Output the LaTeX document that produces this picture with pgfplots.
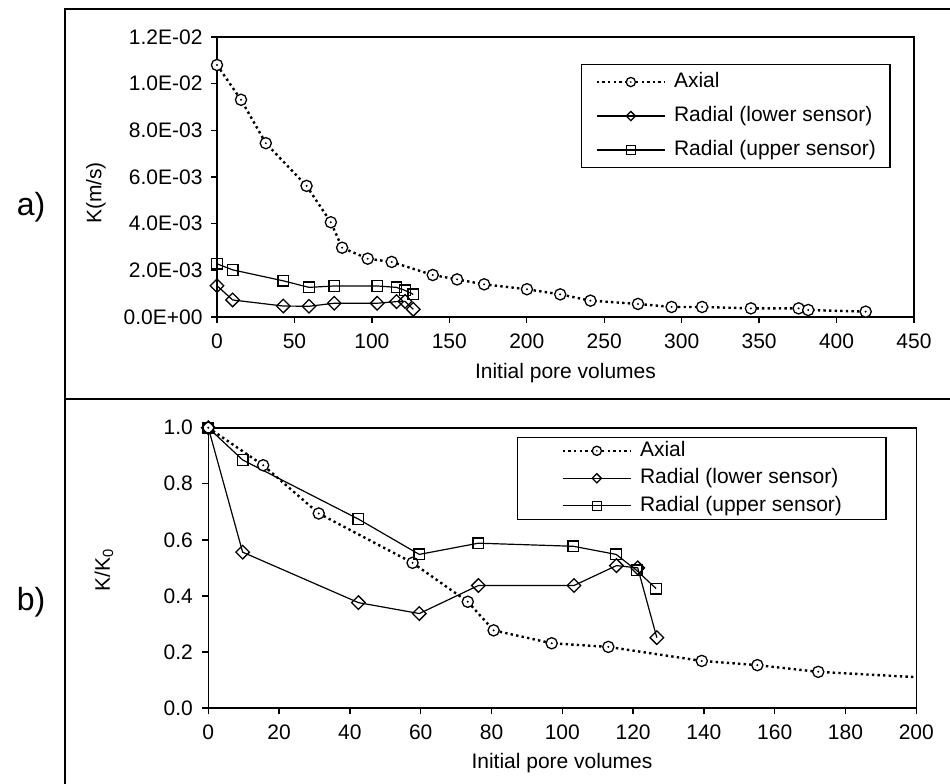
\documentclass[border=0pt]{standalone}
\usepackage{fontspec}
\setmainfont{Liberation Sans}
\usepackage{pgfplots}
\pgfplotsset{compat=1.18}

\newcommand\fs{\fontsize{21pt}{24pt}\selectfont}

% hollow circle with a centre dot
\pgfdeclareplotmark{odot}{%
  \pgfpathcircle{\pgfpointorigin}{\pgfplotmarksize}%
  \pgfsetfillcolor{white}\pgfusepathqfillstroke
  \pgfpathcircle{\pgfpointorigin}{0.2\pgfplotmarksize}%
  \pgfsetfillcolor{black}\pgfusepathqfill}
% square-shaped diamond
\pgfdeclareplotmark{rdiamond}{%
  \pgfpathmoveto{\pgfqpoint{0pt}{\pgfplotmarksize}}%
  \pgfpathlineto{\pgfqpoint{\pgfplotmarksize}{0pt}}%
  \pgfpathlineto{\pgfqpoint{0pt}{-\pgfplotmarksize}}%
  \pgfpathlineto{\pgfqpoint{-\pgfplotmarksize}{0pt}}%
  \pgfpathclose\pgfusepathqstroke}

\pgfplotsset{
  panel/.style={
    scale only axis, anchor=south west,
    axis line style={line width=1.6pt},
    tick align=outside, major tick length=6pt,
    tick style={black, line width=1.4pt},
    xtick pos=bottom, ytick pos=left,
    tick label style={font=\fs},
    /pgf/number format/assume math mode=true,
    xticklabel style={yshift=-7pt},
    legend cell align=left,
    legend image code/.code={%
      \draw[#1, mark indices={2}, mark size=4.6pt]
        plot coordinates {(0pt,0pt) (34pt,0pt) (68pt,0pt)};},
  },
  axial/.style={black, line width=2.4pt, dash pattern=on 2.4pt off 3.2pt,
    mark=odot, mark size=5.6pt, mark options={solid, line width=1.3pt}},
  lower/.style={black, line width=1.2pt, mark=rdiamond, mark size=6.8pt,
    mark options={solid, line width=1.3pt}},
  upper/.style={black, line width=1.2pt, mark=square, mark size=5.3pt,
    mark options={solid, line width=1.3pt}},
}

\begin{document}
\begin{tikzpicture}[x=1pt, y=1pt]
\useasboundingbox (0,0) rectangle (950,-784);

% panel frame
\draw[line width=2.2pt] (65,-790) -- (65,-9) -- (960,-9);
\draw[line width=2.2pt] (65,-399) -- (960,-399);

% ---------- a) hydraulic conductivity ----------
\begin{axis}[panel,
  at={(217pt,-317pt)}, width=697pt, height=280pt,
  xmin=0, xmax=450, ymin=0, ymax=0.012,
  xtick={0,50,100,150,200,250,300,350,400,450},
  ytick={0,0.002,0.004,0.006,0.008,0.010,0.012},
  yticklabels={0.0E+00,2.0E-03,4.0E-03,6.0E-03,8.0E-03,1.0E-02,1.2E-02},
  yticklabel style={xshift=-5pt},
  scaled y ticks=false,
  legend style={at={(axis description cs:0.5222,0.904)}, anchor=north west,
    draw=black, line width=1.3pt, inner xsep=14pt, inner ysep=8pt,
    row sep=15pt, font=\fs,
    nodes={inner sep=0pt, text height=15pt, text depth=4pt},
    /tikz/every odd column/.append style={column sep=8pt}},
]
\addplot[axial] coordinates {
  (0,0.0108) (15.5,0.00931) (31.5,0.00745) (57.8,0.00562) (73.5,0.00406)
  (80.8,0.00297) (97.3,0.00250) (112.8,0.00236) (139.3,0.00180)
  (155.0,0.00161) (172.5,0.00140) (200.1,0.00119) (221.6,0.00097)
  (241.1,0.00070) (271.8,0.00056) (293.5,0.00043) (313.2,0.00043)
  (344.7,0.00037) (375.5,0.00037) (381.7,0.00030) (418.8,0.00023)};
\addlegendentry{Axial}
\addplot[lower] coordinates {
  (0,0.00134) (10.1,0.00073) (42.8,0.00047) (59.4,0.00046) (75.7,0.00059)
  (103.4,0.00059) (115.9,0.00066) (121.4,0.00067) (126.7,0.00033)};
\addlegendentry{Radial (lower sensor)}
\addplot[upper] coordinates {
  (0,0.00228) (10.1,0.00202) (42.8,0.00155) (59.4,0.00127) (75.7,0.00133)
  (103.4,0.00133) (115.9,0.00127) (121.4,0.00114) (126.7,0.00097)};
\addlegendentry{Radial (upper sensor)}
\end{axis}

% ---------- b) normalised conductivity ----------
\begin{axis}[panel,
  at={(208.3pt,-708pt)}, width=708pt, height=280.3pt,
  xmin=0, xmax=200, ymin=0, ymax=1,
  xtick={0,20,40,60,80,100,120,140,160,180,200},
  ytick={0,0.2,0.4,0.6,0.8,1.0},
  yticklabel style={xshift=-6pt, /pgf/number format/.cd, fixed, fixed zerofill, precision=1},
  legend style={at={(axis description cs:0.436,0.968)}, anchor=north west,
    draw=black, line width=1.3pt, inner xsep=44pt, inner ysep=4pt,
    row sep=8.5pt, font=\fs,
    nodes={inner sep=0pt, text height=15pt, text depth=4pt},
    /tikz/every odd column/.append style={column sep=8pt}},
]
\addplot[axial, mark indices={1,2,3,4,5,6,7,8,9,10,11}] coordinates {
  (0,1.0) (15.5,0.866) (31.2,0.694) (57.7,0.518) (73.3,0.379) (80.6,0.277)
  (97.0,0.231) (113.0,0.218) (139.4,0.168) (155.1,0.153) (172.3,0.129)
  (200.1,0.110) (221.6,0.090) (241.1,0.065)};
\addlegendentry{Axial}
\addplot[lower] coordinates {
  (0,1.0) (9.7,0.556) (42.4,0.376) (59.6,0.337) (76.3,0.437) (103.3,0.437)
  (115.3,0.508) (121.3,0.500) (126.7,0.251)};
\addlegendentry{Radial (lower sensor)}
\addplot[upper] coordinates {
  (0,1.0) (9.7,0.885) (42.4,0.674) (59.6,0.548) (76.3,0.588) (103.1,0.577)
  (115.2,0.548) (121.0,0.491) (126.5,0.426)};
\addlegendentry{Radial (upper sensor)}
\end{axis}

% titles
\node[font=\fs, anchor=base] at (565.5,-378) {Initial pore volumes};
\node[font=\fs, anchor=base] at (562,-768) {Initial pore volumes};
\node[font=\fs, rotate=90] at (96,-193) {K(m/s)};
\node[font=\fs, rotate=90] at (104,-570) {K/K\textsubscript{0}};
\node[font=\fontsize{32pt}{36pt}\selectfont] at (31,-207) {a)};
\node[font=\fontsize{32pt}{36pt}\selectfont] at (31,-602) {b)};
\end{tikzpicture}
\end{document}
